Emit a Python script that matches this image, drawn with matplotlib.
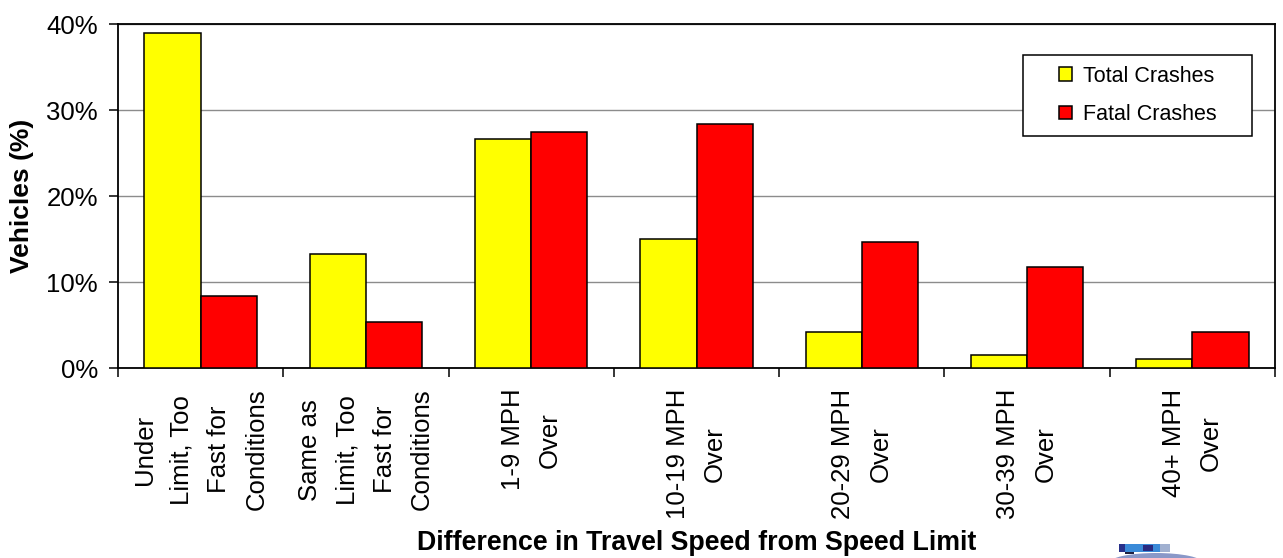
import numpy as np
import matplotlib
matplotlib.use("Agg")
import matplotlib.pyplot as plt
from matplotlib.patches import Rectangle, FancyBboxPatch, Ellipse
from matplotlib.ticker import FuncFormatter, FixedLocator

plt.rcParams['font.family'] = ['Liberation Sans', 'DejaVu Sans']

categories = ["Under\nLimit, Too\nFast for\nConditions",
              "Same as\nLimit, Too\nFast for\nConditions",
              "1-9 MPH\nOver",
              "10-19 MPH\nOver",
              "20-29 MPH\nOver",
              "30-39 MPH\nOver",
              "40+ MPH\nOver"]
total_crashes = [38.9, 13.3, 26.6, 15.0, 4.2, 1.5, 1.0]
fatal_crashes = [8.4, 5.4, 27.5, 28.4, 14.7, 11.7, 4.2]
series_names = ["Total Crashes", "Fatal Crashes"]

W, H = 1283, 558
fig = plt.figure(figsize=(W / 100, H / 100), dpi=100)
ax = fig.add_axes([118 / W, 1 - 368 / H, 1157 / W, 344 / H])

x = np.arange(len(categories))
bw = 0.34
b1 = ax.bar(x - bw / 2, total_crashes, bw, color="#FFFF00", edgecolor="black",
            linewidth=1.1, zorder=3, label=series_names[0])
b2 = ax.bar(x + bw / 2, fatal_crashes, bw, color="#FF0000", edgecolor="black",
            linewidth=1.1, zorder=3, label=series_names[1])

ax.set_xlim(-0.5, len(categories) - 0.5)
ax.set_ylim(0, 40)
ax.set_yticks([0, 10, 20, 30, 40])
ax.yaxis.set_major_formatter(FuncFormatter(lambda v, p: f"{v:.0f}%"))
ax.yaxis.grid(True, color="#8c8c8c", linewidth=1.0, zorder=0)
ax.set_axisbelow(True)

ax.set_xticks(x)
ax.set_xticklabels(categories, rotation=90, ha="center", va="top",
                   multialignment="center", linespacing=1.7)
ax.xaxis.set_minor_locator(FixedLocator(np.arange(-0.5, len(categories), 1.0)))
ax.tick_params(axis="x", which="major", length=0, pad=15, labelsize=18.5)
ax.tick_params(axis="x", which="minor", length=6.5, width=1.1, direction="out")
ax.tick_params(axis="y", which="major", length=6.5, width=1.1, direction="out",
               pad=8, labelsize=18.5)

for s in ax.spines.values():
    s.set_linewidth(1.3)
    s.set_color("black")

ax.set_ylabel("Vehicles (%)", fontsize=19, fontweight="bold")
ax.yaxis.set_label_coords(-(118 - 22) / 1157, 0.5)
ax.yaxis.label.set_va("center")
ax.set_xlabel("Difference in Travel Speed from Speed Limit", fontsize=19.3,
              fontweight="bold")
ax.xaxis.set_label_coords(0.5, -(530 - 368) / 344)

# legend
lx0, lx1, ly0, ly1 = 1023, 1252, 55, 136
frame = Rectangle(((lx0 - 118) / 1157, (368 - ly1) / 344),
                  (lx1 - lx0) / 1157, (ly1 - ly0) / 344,
                  transform=ax.transAxes, facecolor="white", edgecolor="black",
                  linewidth=1.1, zorder=5)
ax.add_patch(frame)
leg = ax.legend(handles=[b1, b2], loc="center", frameon=False,
                bbox_to_anchor=(((lx0 + lx1) / 2 - 118) / 1157,
                                (368 - (ly0 + ly1) / 2) / 344),
                fontsize=15.5, handlelength=0.6, handleheight=0.6,
                handletextpad=0.5, labelspacing=0.8, borderpad=0.3)
leg.set_zorder(6)

# small logo at bottom right
def fx(px):
    return px / W

def fy(py):
    return 1 - py / H

fig.patches.append(Ellipse((fx(1156), fy(563)), 94 / W, 20 / H,
                           transform=fig.transFigure, facecolor="#8a98c8",
                           edgecolor="none"))
fig.patches.append(Rectangle((fx(1125), fy(554)), 9 / W, 2 / H,
                             transform=fig.transFigure, facecolor="#202040",
                             edgecolor="none"))
fig.patches.append(FancyBboxPatch((fx(1119), fy(552)), 51 / W, 8 / H,
                                  boxstyle="round,pad=0,rounding_size=0.003",
                                  transform=fig.transFigure,
                                  facecolor="#3a8ad8", edgecolor="none"))
fig.patches.append(Rectangle((fx(1119), fy(552)), 6 / W, 8 / H,
                             transform=fig.transFigure, facecolor="#28308a",
                             edgecolor="none"))
fig.patches.append(Rectangle((fx(1143), fy(551)), 10 / W, 6 / H,
                             transform=fig.transFigure, facecolor="#2a2a80",
                             edgecolor="none"))
fig.patches.append(Rectangle((fx(1160), fy(552)), 10 / W, 8 / H,
                             transform=fig.transFigure, facecolor="#a0b0d0",
                             edgecolor="none"))

fig.savefig("out.png", dpi=100)
